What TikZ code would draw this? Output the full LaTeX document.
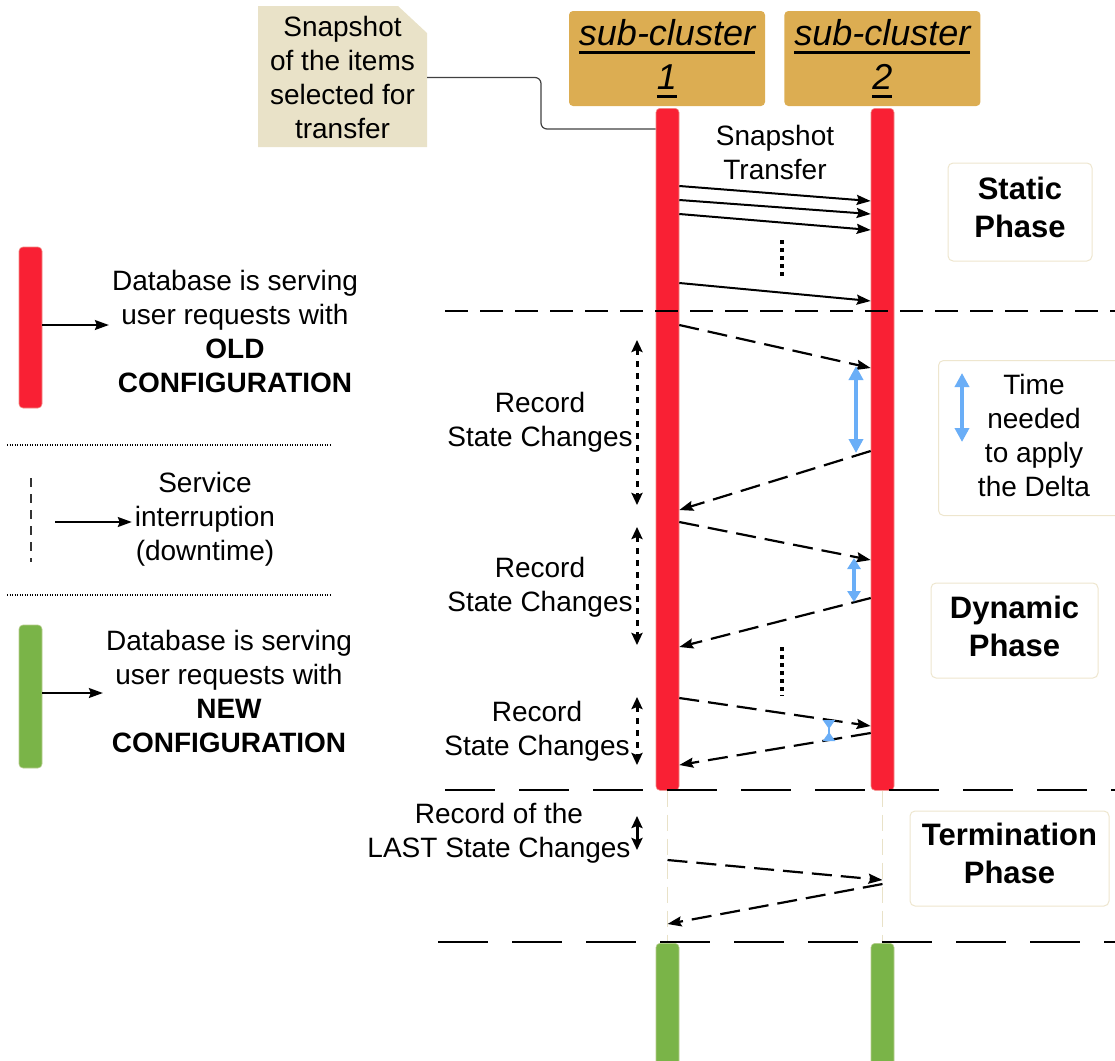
\documentclass[tikz,border=0pt]{standalone}
\usepackage{fontspec}
\setmainfont{Liberation Sans}
\usetikzlibrary{arrows.meta,positioning}

\definecolor{barred}{RGB}{249,32,52}
\definecolor{bargreen}{RGB}{122,180,72}
\definecolor{headgold}{RGB}{220,173,82}
\definecolor{notebg}{RGB}{233,226,200}
\definecolor{boxline}{RGB}{238,230,206}
\definecolor{deltablue}{RGB}{106,174,247}

\newcommand{\hdul}[1]{\setbox0\hbox{#1}\rlap{\rule[-8pt]{\wd0}{2.6pt}}\box0}

\begin{document}
\begin{tikzpicture}[x=1pt,y=-1pt,>={Stealth[length=14pt,width=10pt,inset=2pt]}]
\useasboundingbox (0,0) rectangle (1115,1060);

\tikzstyle{header} = [rectangle, rounded corners=4pt, minimum width=196pt, minimum height=95pt, inner sep=0pt, fill=headgold, align=center, font=\fontsize{36}{44}\selectfont\itshape]
\tikzstyle{oldbar} = [rectangle, rounded corners=4pt, fill=barred, draw=barred!45!notebg, line width=0.6pt, minimum width=23pt, inner sep=0pt]
\tikzstyle{newbar} = [rectangle, rounded corners=4pt, fill=bargreen, draw=bargreen!45!notebg, line width=0.6pt, minimum width=23pt, inner sep=0pt]
\tikzstyle{phase} = [rectangle, rounded corners=5pt, draw=boxline, line width=1pt, fill=white, inner sep=0pt]
\tikzstyle{phasetxt} = [align=center, inner sep=0pt, font=\fontsize{31}{38}\selectfont\bfseries]
\tikzstyle{txt} = [align=center, inner sep=3pt, font=\fontsize{28}{34}\selectfont]
\tikzstyle{arrow} = [line width=1.5pt,->]
\tikzstyle{msg} = [line width=2pt,->]
\tikzstyle{delta} = [line width=2.2pt,->,dash pattern=on 20pt off 9pt]
\tikzstyle{rec} = [line width=3pt,{Stealth[length=12pt,width=11pt,inset=2pt]}-{Stealth[length=12pt,width=11pt,inset=2pt]},dash pattern=on 6pt off 6pt]
\tikzstyle{deltaarr} = [line width=4pt, deltablue, {Triangle[length=14pt,width=14pt]}-{Triangle[length=14pt,width=14pt]}]
\tikzstyle{phaseline} = [line width=2.8pt, dash pattern=on 50pt off 24pt]
\tikzstyle{lifeline} = [line width=1.5pt, notebg, dash pattern=on 16pt off 8pt]
\tikzstyle{legendsep} = [line width=1.5pt, dash pattern=on 1pt off 1.5pt]
\tikzstyle{vdots} = [line width=3.5pt, dash pattern=on 3.5pt off 4.5pt]

% sub-clusters and their bars
\node (h1) [header] at (667,58.5) {\hdul{sub-cluster}\\\hdul{1}};
\node (h2) [header, right=19pt of h1] {\hdul{sub-cluster}\\\hdul{2}};
\node (bar1) [oldbar, minimum height=682pt, anchor=north] at (667.5,108) {};
\node (bar2) [oldbar, minimum height=682pt, anchor=north] at (882.5,108) {};
\node (new1) [newbar, minimum height=130pt, anchor=north] at (667.5,943) {};
\node (new2) [newbar, minimum height=130pt, anchor=north] at (882.5,943) {};
\draw [lifeline] (bar1.south) -- (new1.north);
\draw [lifeline] (bar2.south) -- (new2.north);

% note
\fill [notebg] (258,6) -- (398,6) -- (427,33) -- (427,147) -- (258,147) -- cycle;
\node (snap) [txt, minimum width=169pt, minimum height=141pt, inner sep=0pt] at (342.5,77.5) {Snapshot\\of the items\\selected for\\transfer};
\draw [line width=1.2pt, black!75, rounded corners=6pt] (snap.east) -| (541,103) |- (bar1.west |- 0,129);

% static phase
\node (snaptr) [txt] at (775,152.5) {Snapshot\\Transfer};
\draw [msg] (bar1.east |- 0,186) -- (bar2.west |- 0,201);
\draw [msg] (bar1.east |- 0,200) -- (bar2.west |- 0,214);
\draw [msg] (bar1.east |- 0,214) -- (bar2.west |- 0,230);
\draw [vdots] (782,240) -- (782,276);
\draw [msg] (bar1.east |- 0,283) -- (bar2.west |- 0,301);
\node (static) [phase, minimum width=144pt, minimum height=98pt] at (1020,212) {};
\node (statictxt) [phasetxt] at (1020,207.5) {Static\\Phase};
\draw [line width=1.5pt, dash pattern=on 23pt off 12pt] (445,311) -- (1115,311);

% dynamic phase
\draw [delta] (bar1.east |- 0,325) -- (bar2.west |- 0,368);
\draw [delta] (bar2.west |- 0,451) -- (bar1.east |- 0,510);
\draw [delta] (bar1.east |- 0,522) -- (bar2.west |- 0,560);
\draw [delta] (bar2.west |- 0,598) -- (bar1.east |- 0,647);
\draw [vdots] (782,647) -- (782,696);
\draw [delta] (bar1.east |- 0,698) -- (bar2.west |- 0,726);
\draw [delta] (bar2.west |- 0,733) -- (bar1.east |- 0,765);

\draw [deltaarr] (856,366) -- (856,453);
\draw [deltaarr, {Triangle[length=11pt,width=13pt]}-{Triangle[length=11pt,width=13pt]}] (854,558) -- (854,602);
\draw [line width=2pt, deltablue, {Triangle[reversed,length=9pt,width=12pt]}-{Triangle[reversed,length=9pt,width=12pt]}] (829,720) -- (829,741);

\draw [rec] (637,340) -- (637,505);
\draw [rec] (637,527) -- (637,645);
\draw [rec] (637,697) -- (637,765);
\node (rec1) [txt] at (540,422) {Record\\State Changes};
\node (rec2) [txt] at (540,587) {Record\\State Changes};
\node (rec3) [txt] at (537,731) {Record\\State Changes};

\node (timebox) [phase, minimum width=190pt, minimum height=155pt, anchor=north west] at (938,360) {};
\draw [deltaarr] (962,373) -- (962,442);
\node (timetxt) [txt] at (1034,435) {Time\\needed\\to apply\\the Delta};
\node (dynamic) [phase, minimum width=167pt, minimum height=95pt] at (1014.5,630.5) {};
\node (dynamictxt) [phasetxt] at (1014.5,626) {Dynamic\\Phase};
\draw [phaseline] (445,790) -- (1115,790);

% termination phase
\draw [line width=3pt, {Stealth[length=12pt,width=11pt,inset=2pt]}-{Stealth[length=12pt,width=11pt,inset=2pt]}] (637,816) -- (637,850);
\node (rec4) [txt] at (499,833) {Record of the\\LAST State Changes};
\draw [delta] (bar1.south |- 0,860) -- (bar2.south |- 0,880);
\draw [delta] (bar2.south |- 0,884) -- (bar1.south |- 0,924);
\node (term) [phase, minimum width=199pt, minimum height=95pt] at (1009.5,858.5) {};
\node (termtxt) [phasetxt] at (1009.5,853.5) {Termination\\Phase};
\draw [phaseline] (438,942) -- (1115,942);

% legend
\node (legold) [oldbar, minimum height=161pt] at (30.5,327.5) {};
\node (oldtxt) [txt] at (235,331) {Database is serving\\user requests with\\\textbf{OLD}\\\textbf{CONFIGURATION}};
\draw [arrow] (legold.east |- 0,325) -- (oldtxt.west |- 0,325);
\draw [legendsep] (7,445) -- (330,445);
\draw [line width=1.2pt, black!80, dash pattern=on 9pt off 7pt] (31,478) -- (31,562);
\coordinate (intfrom) at (55,522);
\node (inttxt) [txt] at (205,519.5) {Service\\interruption\\(downtime)};
\draw [arrow] (intfrom) -- (intfrom -| inttxt.west);
\draw [legendsep] (7,595) -- (330,595);
\node (legnew) [newbar, minimum height=143pt] at (30.5,696.5) {};
\node (newtxt) [txt] at (229,691) {Database is serving\\user requests with\\\textbf{NEW}\\\textbf{CONFIGURATION}};
\draw [arrow] (legnew.east |- 0,693) -- (newtxt.west |- 0,693);

\end{tikzpicture}
\end{document}
